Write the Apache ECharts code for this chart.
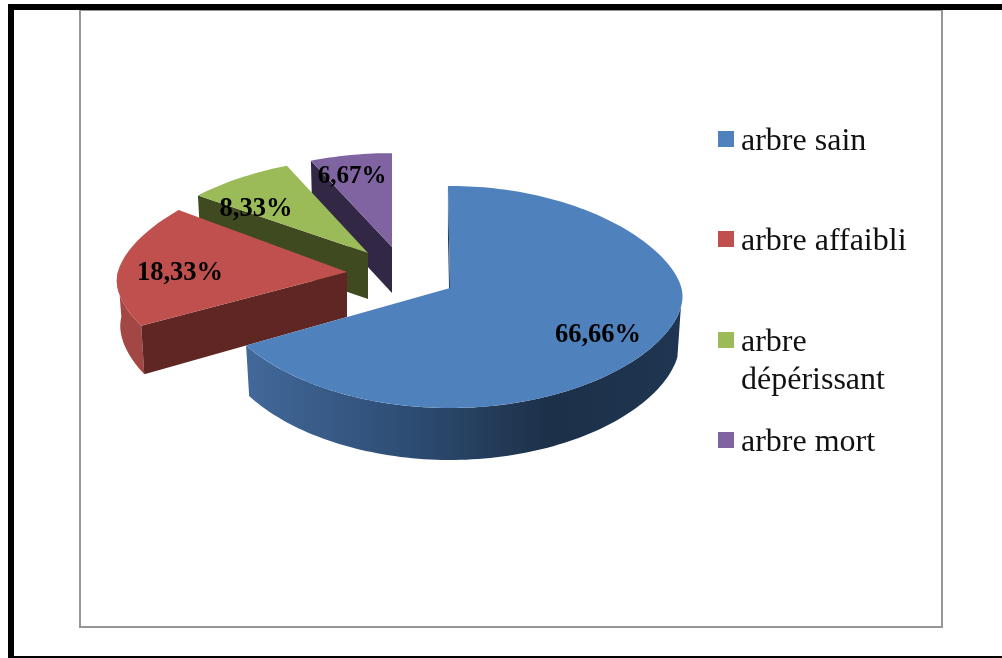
<!DOCTYPE html>
<html>
<head>
<meta charset="utf-8">
<style>html,body{margin:0;padding:0;background:#fff}#c{width:1002px;height:658px}</style>
<script src="https://cdn.jsdelivr.net/npm/echarts@6/dist/echarts.min.js"></script>
</head>
<body>
<div id="c"></div>
<script>
// ---- data ----
const categories = ['arbre sain', 'arbre affaibli', 'arbre dépérissant', 'arbre mort'];
const values = [66.66, 18.33, 8.33, 6.67];
const valueLabels = ['66,66%', '18,33%', '8,33%', '6,67%'];

// ---- styling / layout (not data) ----
const topColors = ['#4f81bd', '#c0504d', '#9bbb59', '#8064a2'];
const cutColors = ['#1d324e', '#5f2623', '#3f4a20', '#322845'];
const apexes = [[450, 288], [347, 272], [368, 253], [392, 247]];
const depths = [49, 45, 46, 46];
const depthGrow = [0.06, 0.16, 0, 0];
const farScale = [1, 1, 0.93, 0.92];
const radiusScale = [1, 0.99, 1, 1];
const startTweak = [-0.6, 2, 0, 0];
const labelOffsets = [[148, 47], [-167, 1], [-112, -44], [-40, -70]];
const labelSizes = [26.5, 26.5, 26.5, 25];
const legendTops = [120, 220, 283, 421];
const seriesZ = [6, 5, 4, 3];
const RX = 236, RY = 110.3, P = 0.081, Q = 0.19, SOFT = 0.15, BOTTOM_X = 0.985, WALL_FROM = 100, WALL_TO = 270;

const total = values.reduce((s, v) => s + v, 0);
const starts = values.map((_, i) => values.slice(0, i).reduce((s, v) => s + v, 0));

function project(i, deg) {
  const t = deg * Math.PI / 180, u = Math.sin(t), v = -Math.cos(t);
  const d = 0.05 - v;
  const far = (Math.sqrt(d * d + SOFT * SOFT) + d) / 2;
  const x = RX * radiusScale[i] * u / (1 + Q * far);
  const y = RY * v / (1 - P * v) * (v < 0 ? farScale[i] : 1);
  return [x, y, v];
}
function rimTop(i, deg) {
  const p = project(i, deg);
  return [apexes[i][0] + p[0], apexes[i][1] + p[1]];
}
function rimBottom(i, deg) {
  const p = project(i, deg);
  return [apexes[i][0] + p[0] * BOTTOM_X, apexes[i][1] + p[1] + depths[i] * (1 + depthGrow[i] * Math.max(p[2], 0))];
}
function arc(fn, i, a, b) {
  const pts = [], n = Math.max(2, Math.ceil(Math.abs(b - a) / 1.5));
  for (let k = 0; k <= n; k++) pts.push(fn(i, a + (b - a) * k / n));
  return pts;
}
function poly(points, fill, z2) {
  return { type: 'polygon', shape: { points }, style: { fill }, z2 };
}
function wallFill(i) {
  if (i === 0) return new echarts.graphic.LinearGradient(0, 0, 1, 0, [
    { offset: 0, color: '#42699a' }, { offset: 0.38, color: '#2d4c73' },
    { offset: 0.7, color: '#1c3048' }, { offset: 1, color: '#1f3551' }
  ]);
  return '#a34744';
}

function renderSlice(params, api) {
  const i = params.seriesIndex;
  const value = api.value(0), start = api.value(1);
  const a = start / total * 360 + startTweak[i], b = (start + value) / total * 360;
  const children = [];
  // outer wall: the part of the rim that faces the viewer
  const wa = Math.max(a, WALL_FROM), wb = Math.min(b, WALL_TO);
  if (wb > wa) {
    children.push(poly(arc(rimTop, i, wa, wb).concat(arc(rimBottom, i, wb, wa)), wallFill(i), 1));
  }
  // cut face along the starting radius
  const ap = apexes[i];
  children.push(poly([ap, rimTop(i, a), rimBottom(i, a), [ap[0], ap[1] + depths[i]]], cutColors[i], 2));
  // top surface
  children.push(poly([ap].concat(arc(rimTop, i, a, b)), topColors[i], 3));
  // value label
  children.push({
    type: 'text', z2: 10,
    style: {
      text: valueLabels[i], x: ap[0] + labelOffsets[i][0], y: ap[1] + labelOffsets[i][1],
      align: 'center', verticalAlign: 'middle', fill: '#000',
      font: 'bold ' + labelSizes[i] + 'px "Liberation Serif"'
    }
  });
  return { type: 'group', children };
}

const series = categories.map((name, i) => ({
  type: 'custom', name, coordinateSystem: 'none', renderItem: renderSlice,
  z: seriesZ[i], itemStyle: { color: topColors[i] }, silent: true, animation: false,
  data: [[values[i], starts[i]]]
}));

const legends = categories.map((name, i) => ({
  data: [name], orient: 'vertical', left: 718, top: legendTops[i],
  icon: 'rect', itemWidth: 16, itemHeight: 16, selectedMode: false, padding: 0,
  formatter: n => n === 'arbre dépérissant' ? '{t|\u00a0}\n{t|arbre}\n{t|dépérissant}' : '{t|' + n + '}',
  textStyle: {
    fontFamily: 'Liberation Serif', fontSize: 32, color: '#111', lineHeight: 38,
    rich: { t: { fontFamily: 'Liberation Serif', fontSize: 32, color: '#111', lineHeight: 38, verticalAlign: 'bottom', padding: [0, 0, 0, 2] } }
  }
}));

const chart = echarts.init(document.getElementById('c'), null, { renderer: 'canvas' });
chart.setOption({
  animation: false, backgroundColor: '#fff', legend: legends, series,
  graphic: [
    { type: 'rect', shape: { x: 80, y: 10, width: 862, height: 617 }, style: { fill: 'none', stroke: '#969696', lineWidth: 2 }, silent: true },
    { type: 'rect', shape: { x: 8, y: 4, width: 994, height: 6 }, style: { fill: '#000' }, silent: true },
    { type: 'rect', shape: { x: 8, y: 4, width: 6, height: 654 }, style: { fill: '#000' }, silent: true },
    { type: 'rect', shape: { x: 8, y: 656, width: 994, height: 2 }, style: { fill: '#000' }, silent: true }
  ]
});
</script>
</body>
</html>
